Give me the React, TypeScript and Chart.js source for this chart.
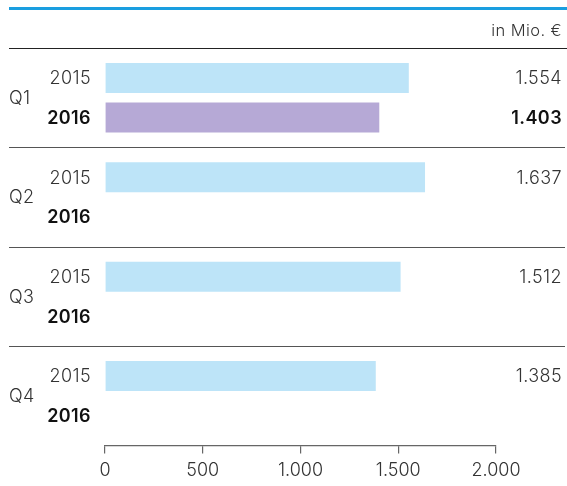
import React, { useEffect, useRef } from "react";
import { Chart, registerables } from "chart.js";

Chart.register(...registerables);

const quarters = ["Q1", "Q2", "Q3", "Q4"];
const years = ["2015", "2016"];
const values2015 = [1554, 1637, 1512, 1385];
const values2016: (number | null)[] = [1403, null, null, null];
const xTicks = [0, 500, 1000, 1500, 2000];
const unitLabel = "in Mio. €";

const FONT = "Inter, 'Liberation Sans', Arial, sans-serif";
const REG = `300 18px ${FONT}`;
const BOLD = `600 18px ${FONT}`;

function fmt(v: number): string {
  const s = Math.round(v).toString();
  return s.replace(/\B(?=(\d{3})+(?!\d))/g, ".");
}

const decorPlugin = {
  id: "decor",
  afterDraw(chart: any) {
    const ctx = chart.ctx as CanvasRenderingContext2D;
    const area = chart.chartArea;
    const yScale = chart.scales.y;
    const W = chart.width;
    ctx.save();
    (ctx as any).letterSpacing = "0.4px";
    // top blue rule
    ctx.strokeStyle = "#1a9ee0";
    ctx.lineWidth = 3;
    ctx.beginPath();
    ctx.moveTo(9, 8.5);
    ctx.lineTo(W, 8.5);
    ctx.stroke();
    // unit label
    ctx.fillStyle = "#333";
    ctx.font = `300 16.5px ${FONT}`;
    ctx.textAlign = "right";
    ctx.textBaseline = "middle";
    ctx.fillText(unitLabel, 562, 31);
    // header black line
    ctx.strokeStyle = "#222";
    ctx.lineWidth = 1.2;
    ctx.beginPath();
    ctx.moveTo(9, area.top + 0.5);
    ctx.lineTo(W, area.top + 0.5);
    ctx.stroke();

    const meta0 = chart.getDatasetMeta(0);
    const meta1 = chart.getDatasetMeta(1);
    const n = quarters.length;
    for (let i = 0; i < n; i++) {
      const center = yScale.getPixelForValue(i);
      const y0 = meta0.data[i]?.y ?? center - 20;
      let y1 = meta1.data[i]?.y;
      if (y1 == null || isNaN(y1)) y1 = 2 * center - y0;
      // quarter label
      ctx.fillStyle = "#333";
      ctx.font = REG;
      ctx.textAlign = "left";
      ctx.fillText(quarters[i], 9, center + 1);
      // year labels
      ctx.textAlign = "right";
      ctx.fillStyle = "#333";
      ctx.font = REG;
      ctx.fillText(years[0], 91, y0 + 1);
      ctx.fillStyle = "#111";
      ctx.font = BOLD;
      ctx.fillText(years[1], 91, y1 + 1);
      // value labels
      ctx.fillStyle = "#333";
      ctx.font = REG;
      ctx.fillText(fmt(values2015[i]), 562, y0 + 1);
      const v1 = values2016[i];
      if (v1 != null) {
        ctx.fillStyle = "#111";
        ctx.font = BOLD;
        ctx.fillText(fmt(v1), 562, y1 + 1);
      }
      // separator
      if (i < n - 1) {
        const sep = (yScale.getPixelForValue(i) + yScale.getPixelForValue(i + 1)) / 2;
        ctx.strokeStyle = "#555";
        ctx.lineWidth = 1.2;
        ctx.beginPath();
        ctx.moveTo(9, Math.round(sep) + 0.5);
        ctx.lineTo(W - 2, Math.round(sep) + 0.5);
        ctx.stroke();
      }
    }
    ctx.restore();
  },
};

export default function App() {
  const ref = useRef<HTMLCanvasElement | null>(null);
  useEffect(() => {
    document.body.style.margin = "0";
    document.body.style.overflow = "hidden";
    const canvas = ref.current!;
    const chart = new Chart(canvas, {
      type: "bar",
      data: {
        labels: quarters,
        datasets: [
          {
            label: years[0],
            data: values2015,
            backgroundColor: "#bde4f8",
            categoryPercentage: 0.795,
            barPercentage: 0.76,
          },
          {
            label: years[1],
            data: values2016,
            backgroundColor: "#b6a9d6",
            categoryPercentage: 0.795,
            barPercentage: 0.76,
          },
        ],
      },
      options: {
        indexAxis: "y",
        animation: false,
        responsive: false,
        maintainAspectRatio: false,
        layout: { padding: { left: 105, right: 71, top: 48, bottom: 0 } },
        plugins: {
          legend: { display: false },
          tooltip: { enabled: false },
        },
        scales: {
          y: { display: false },
          x: {
            min: xTicks[0],
            max: xTicks[xTicks.length - 1],
            afterBuildTicks: (axis: any) => {
              axis.ticks = xTicks.map((v) => ({ value: v }));
            },
            afterFit: (scale: any) => {
              scale.height = 40.5;
            },
            grid: {
              drawOnChartArea: false,
              drawTicks: true,
              tickLength: 8,
              color: "#666",
              lineWidth: 1.2,
            },
            border: { display: true, color: "#666", width: 1.2 },
            ticks: {
              callback: (v: any) => fmt(Number(v)),
              color: "#333",
              font: { family: FONT, size: 18, weight: "300" },
              padding: 6.5,
              maxRotation: 0,
            },
          },
        },
      },
      plugins: [decorPlugin],
    } as any);
    return () => chart.destroy();
  }, []);
  return <canvas ref={ref} width={567} height={486} style={{ display: "block" }} />;
}
